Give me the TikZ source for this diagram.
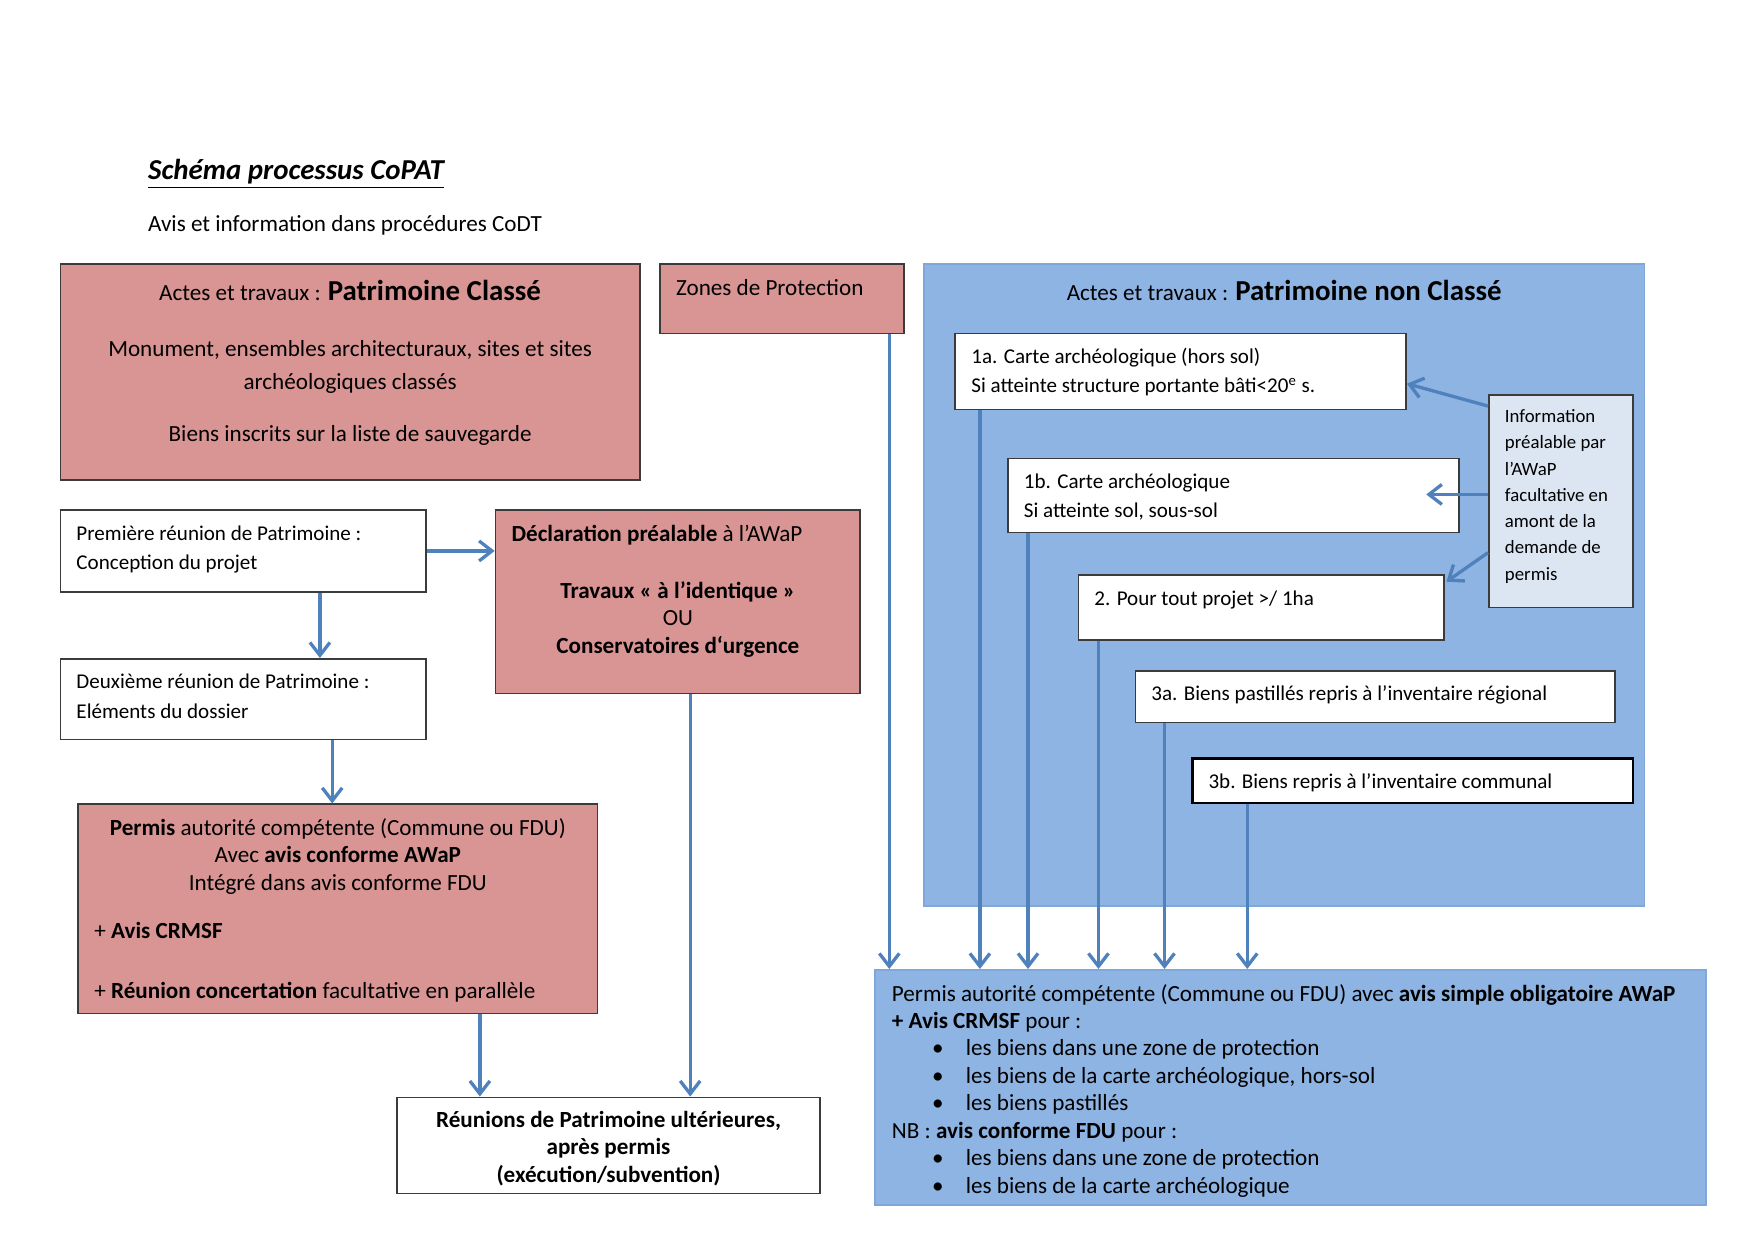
\documentclass[tikz,border=0pt]{standalone}
\usepackage{fontspec}
\setmainfont{Carlito}
\usetikzlibrary{arrows.meta,fit}

\definecolor{rose}{HTML}{D99594}
\definecolor{bleu}{HTML}{8EB4E3}
\definecolor{bleupale}{HTML}{DCE6F2}
\definecolor{trait}{HTML}{4F81BD}
\definecolor{cadre}{HTML}{3B3B3B}
\definecolor{cadrebleu}{HTML}{7FA7DA}

\newcommand{\puce}{\hspace*{19.5pt}\makebox[16.3pt][l]{\textbullet}}

\tikzset{
  boite/.style={draw=cadre, line width=0.8pt, inner sep=0pt},
  boiterose/.style={boite, fill=rose},
  boiteblanche/.style={boite, fill=white},
  boitebleue/.style={draw=cadrebleu, line width=0.8pt, fill=bleu, inner sep=0pt},
  texte/.style={inner sep=0pt, anchor=base west, yshift=-0.055cm, font=\fontsize{11.2}{13.3}\selectfont},
  petit/.style={texte, font=\fontsize{10.2}{14.1}\selectfont},
  centre/.style={texte, anchor=base},
  fleche/.style={draw=trait, line width=1.6pt, -{Straight Barb[length=2.2mm,width=3.4mm]}},
}

\begin{document}
\begin{tikzpicture}[x=0.01904cm, y=-0.01904cm]
    \useasboundingbox (0,0) rectangle (1568,1110);

    % titre
    \node[texte, font=\fontsize{14}{17}\selectfont\bfseries\itshape] (titre) at (132,158) {\underline{Schéma processus CoPAT}};
    \node[texte] (soustitre) at (132,204) {Avis et information dans procédures CoDT};

    % patrimoine classe
    \node[boiterose, fit={(54,236) (572,429)}] (classe) {};
    \node[centre] (classeT) at (313,266) {Actes et travaux : {\fontsize{14}{17}\selectfont\bfseries Patrimoine Classé}};
    \node[centre, font=\fontsize{11.2}{15.7}\selectfont] (classeM) at (313,316) {\begin{tabular}[t]{@{}c@{}}Monument, ensembles architecturaux, sites et sites\\ archéologiques classés\end{tabular}};
    \node[centre] (classeB) at (313,392) {Biens inscrits sur la liste de sauvegarde};

    \node[boiterose, fit={(590,236) (808,298)}] (zones) {};
    \node[texte] (zonesT) at (604,261) {Zones de Protection};

    \node[boiteblanche, fit={(54,456) (381,529)}] (premiere) {};
    \node[petit] (premiereT) at (68,480) {\begin{tabular}[t]{@{}l@{}}Première réunion de Patrimoine :\\ Conception du projet\end{tabular}};

    \node[boiteblanche, fit={(54,589) (381,661)}] (deuxieme) {};
    \node[petit] (deuxiemeT) at (68,613) {\begin{tabular}[t]{@{}l@{}}Deuxième réunion de Patrimoine :\\ Eléments du dossier\end{tabular}};

    \node[boiterose, fit={(443,456) (769,620)}] (declaration) {};
    \node[texte] (declarationT) at (457,481) {\textbf{Déclaration préalable} à l’AWaP};
    \node[centre] (declarationO) at (606,532) {\begin{tabular}[t]{@{}c@{}}\textbf{Travaux « à l’identique »}\\ OU\\ \textbf{Conservatoires d‘urgence}\end{tabular}};

    \node[boiterose, fit={(70,719) (534,906)}] (permis) {};
    \node[centre] (permisT) at (302,744) {\begin{tabular}[t]{@{}c@{}}\textbf{Permis} autorité compétente (Commune ou FDU)\\ Avec \textbf{avis conforme AWaP}\\ Intégré dans avis conforme FDU\end{tabular}};
    \node[texte] (permisC) at (84,836) {+ \textbf{Avis CRMSF}};
    \node[texte] (permisR) at (84,890) {+ \textbf{Réunion concertation} facultative en parallèle};

    \node[boiteblanche, fit={(355,981) (733,1067)}] (reunions) {};
    \node[centre] (reunionsT) at (544,1005) {\begin{tabular}[t]{@{}c@{}}\textbf{Réunions de Patrimoine ultérieures,}\\ \textbf{après permis}\\ \textbf{(exécution/subvention)}\end{tabular}};

    % patrimoine non classe
    \node[boitebleue, fit={(826,236) (1470,810)}] (nonclasse) {};
    \node[centre] (nonclasseT) at (1148,266) {Actes et travaux : {\fontsize{14}{17}\selectfont\bfseries Patrimoine non Classé}};

    \node[boiteblanche, fit={(854,298) (1257,366)}] (carteA) {};
    \node[petit] (carteAT) at (868,322) {\begin{tabular}[t]{@{}l@{}}1a. Carte archéologique (hors sol)\\ Si atteinte structure portante bâti<20\textsuperscript{e} s.\end{tabular}};

    \node[boiteblanche, fit={(901,410) (1304,476)}] (carteB) {};
    \node[petit] (carteBT) at (915,434) {\begin{tabular}[t]{@{}l@{}}1b. Carte archéologique\\ Si atteinte sol, sous-sol\end{tabular}};

    \node[boiteblanche, fit={(964,514) (1291,572)}] (projet) {};
    \node[petit] (projetT) at (978,538) {2. Pour tout projet >/ 1ha};

    \node[boiteblanche, fit={(1015,600) (1444,646)}] (inventR) {};
    \node[petit] (inventRT) at (1029,623) {3a. Biens pastillés repris à l’inventaire régional};

    \node[boiteblanche, line width=1.2pt, draw=black, fit={(1066,678) (1460,718)}] (inventC) {};
    \node[petit] (inventCT) at (1080,702) {3b. Biens repris à l’inventaire communal};

    \node[boite, fill=bleupale, fit={(1331,353) (1460,543)}] (info) {};
    \node[texte, font=\fontsize{9.1}{12.7}\selectfont] (infoT) at (1345,375) {\begin{tabular}[t]{@{}l@{}}Information\\ préalable par\\ l’AWaP\\ facultative en\\ amont de la\\ demande de\\ permis\end{tabular}};

    \node[boitebleue, fit={(782,867) (1525,1077)}] (bas) {};
    \node[texte] (basT) at (797,892) {\begin{tabular}[t]{@{}l@{}}Permis autorité compétente (Commune ou FDU) avec \textbf{avis simple obligatoire AWaP}\\
        \textbf{+ Avis CRMSF} pour :\\
        \puce les biens dans une zone de protection\\
        \puce les biens de la carte archéologique, hors-sol\\
        \puce les biens pastillés\\
        NB : \textbf{avis conforme FDU} pour :\\
        \puce les biens dans une zone de protection\\
        \puce les biens de la carte archéologique\end{tabular}};

    % fleches
    \draw[fleche] (premiere.east) -- (premiere.east -| declaration.west);
    \draw[fleche] (286,0 |- premiere.south) -- (286,0 |- deuxieme.north);
    \draw[fleche] (297,0 |- deuxieme.south) -- (297,0 |- permis.north);
    \draw[fleche] (429,0 |- permis.south) -- (429,0 |- reunions.north);
    \draw[fleche] (617,0 |- declaration.south) -- (617,0 |- reunions.north);

    \draw[fleche] (795,0 |- zones.south) -- (795,0 |- bas.north);
    \draw[fleche] (876,0 |- carteA.south) -- (876,0 |- bas.north);
    \draw[fleche] (919,0 |- carteB.south) -- (919,0 |- bas.north);
    \draw[fleche] (982,0 |- projet.south) -- (982,0 |- bas.north);
    \draw[fleche] (1041,0 |- inventR.south) -- (1041,0 |- bas.north);
    \draw[fleche] (1115,0 |- inventC.south) -- (1115,0 |- bas.north);

    \coordinate (pointeB) at (1275,442);
    \coordinate (pointeP) at (1293,520);
    \draw[fleche] (info.west |- 0,363) -- (carteA.east |- 0,343);
    \draw[fleche] (info.west |- 0,442) -- (pointeB);
    \draw[fleche] (info.west |- 0,494) -- (pointeP);
\end{tikzpicture}
\end{document}
